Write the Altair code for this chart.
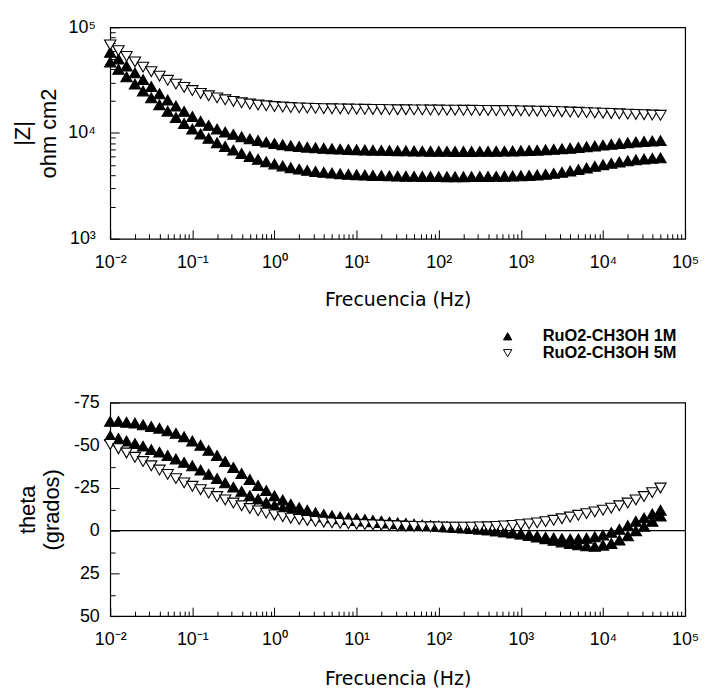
import altair as alt
import pandas as pd

# ---------------- data ----------------
freq = [0.01, 0.0126, 0.0158, 0.02, 0.0251, 0.0316, 0.0398, 0.0501, 0.0631, 0.0794,
        0.1, 0.126, 0.158, 0.2, 0.251, 0.316, 0.398, 0.501, 0.631, 0.794,
        1, 1.26, 1.58, 2, 2.51, 3.16, 3.98, 5.01, 6.31, 7.94,
        10, 12.6, 15.8, 20, 25.1, 31.6, 39.8, 50.1, 63.1, 79.4,
        100, 126, 158, 200, 251, 316, 398, 501, 631, 794,
        1000, 1260, 1580, 2000, 2510, 3160, 3980, 5010, 6310, 7940,
        10000, 12600, 15800, 20000, 25100, 31600, 39800, 50100]

series_names = ["RuO2-CH3OH (rótulo cortado)", "RuO2-CH3OH 1M", "RuO2-CH3OH 5M"]

# |Z| (ohm cm2)
z_a = [47000, 40000, 34000, 29000, 25000, 21500, 18500, 16000, 14000, 12300,
       10900, 9800, 8900, 8100, 7450, 6900, 6400, 6000, 5650, 5350,
       5100, 4880, 4700, 4550, 4430, 4330, 4250, 4180, 4120, 4070,
       4030, 4000, 3970, 3950, 3930, 3910, 3900, 3890, 3880, 3870,
       3865, 3860, 3860, 3860, 3865, 3870, 3880, 3890, 3900, 3920,
       3940, 3970, 4010, 4070, 4150, 4250, 4370, 4510, 4670, 4840,
       5010, 5170, 5320, 5460, 5580, 5680, 5760, 5820]
z_b = [58000, 50000, 43000, 37000, 32000, 27500, 23500, 20500, 18000, 16000,
       14300, 12900, 11800, 10900, 10200, 9700, 9200, 8800, 8500, 8200,
       7950, 7750, 7580, 7450, 7340, 7250, 7170, 7100, 7040, 6990,
       6950, 6910, 6880, 6850, 6820, 6800, 6780, 6760, 6740, 6720,
       6710, 6700, 6690, 6690, 6690, 6700, 6710, 6720, 6740, 6760,
       6790, 6830, 6880, 6940, 7010, 7090, 7180, 7290, 7410, 7540,
       7680, 7820, 7960, 8090, 8210, 8310, 8400, 8470]
z_c = [68000, 60000, 53000, 47000, 42000, 38000, 34500, 31500, 29000, 27000,
       25200, 23700, 22500, 21500, 20600, 19900, 19300, 18800, 18400, 18100,
       17800, 17600, 17400, 17300, 17200, 17100, 17000, 16950, 16900, 16850,
       16800, 16750, 16700, 16700, 16650, 16600, 16600, 16550, 16550, 16500,
       16500, 16450, 16450, 16400, 16400, 16350, 16350, 16300, 16300, 16250,
       16200, 16150, 16100, 16050, 16000, 15900, 15800, 15700, 15600, 15500,
       15400, 15300, 15200, 15100, 15000, 14900, 14800, 14700]

# theta (grados)
t_a = [-55.5, -54, -52.5, -51, -49.5, -47.5, -46, -44, -42, -40,
       -38, -35.5, -33, -30.5, -28, -25.5, -23, -20.5, -18.5, -16.5,
       -14.8, -13.3, -12, -10.8, -9.8, -9, -8.2, -7.6, -7, -6.5,
       -6, -5.6, -5.2, -4.8, -4.4, -4, -3.7, -3.4, -3.1, -2.8,
       -2.5, -2.2, -1.9, -1.6, -1.3, -0.9, -0.5, 0, 0.6, 1.2,
       1.8, 2.5, 3.2, 3.8, 4.3, 4.7, 4.9, 4.8, 4.4, 3.6,
       2.5, 1, -0.8, -3, -5.5, -7.5, -9.8, -12]
t_b = [-64, -64, -63.5, -63, -62, -61, -60, -58.5, -57, -55,
       -52.5, -50, -47, -44, -40.5, -37, -33.5, -30, -26.5, -23.5,
       -20.5, -18, -15.5, -13.5, -12, -10.5, -9.5, -8.7, -8, -7.5,
       -7, -6.5, -6, -5.5, -5, -4.6, -4.2, -3.8, -3.4, -3,
       -2.7, -2.4, -2.1, -1.8, -1.4, -1, -0.5, 0, 0.6, 1.3,
       2, 2.8, 3.7, 4.7, 5.7, 6.6, 7.5, 8.3, 8.9, 9.2,
       8.5, 7.5, 5.5, 3, 0, -2.5, -5.5, -8.5]
t_c = [-50.5, -48, -45.5, -43, -40.5, -38, -35.5, -33, -30.5, -28,
       -26, -24, -22, -20, -18, -16.2, -14.6, -13, -11.6, -10.3,
       -9.2, -8.2, -7.3, -6.6, -6, -5.5, -5, -4.6, -4.3, -4,
       -3.8, -3.6, -3.4, -3.2, -3, -2.8, -2.6, -2.5, -2.4, -2.3,
       -2.2, -2.1, -2.1, -2.1, -2.1, -2.2, -2.3, -2.5, -2.8, -3.1,
       -3.5, -4, -4.6, -5.3, -6.1, -7, -8, -9, -10, -11,
       -12, -13.2, -14.6, -16.2, -18, -20, -22.3, -25]

x_major_vals = [0.01, 0.1, 1, 10, 100, 1000, 10000, 100000]
x_major_labels = ["10⁻²", "10⁻¹", "10⁰", "10¹", "10²", "10³", "10⁴", "10⁵"]
x_minor_vals = [m * d for d in [0.01, 0.1, 1, 10, 100, 1000, 10000] for m in range(2, 10)]
z_major_vals = [1000, 10000, 100000]
z_major_labels = ["10³", "10⁴", "10⁵"]
z_minor_vals = [m * d for d in [1000, 10000] for m in range(2, 10)]
t_major_vals = [-75, -50, -25, 0, 25, 50]
t_major_labels = ["-75", "-50", "-25", "0", "25", "50"]
t_minor_vals = [-62.5, -37.5, -12.5, 12.5, 37.5]
zero_line = [0]

rows = []
for name, zs, ts in zip(series_names, [z_a, z_b, z_c], [t_a, t_b, t_c]):
    for f, z, t in zip(freq, zs, ts):
        rows.append({"serie": name, "freq": f, "z": z, "theta": t})
df = pd.DataFrame(rows)


def label_expr(vals, labels):
    expr = "''"
    for v, lab in reversed(list(zip(vals, labels))):
        tol = max(abs(v) * 0.001, 0.001)
        expr = f"abs(datum.value - ({v})) < {tol} ? '{lab}' : ({expr})"
    return expr


TICK_FONT = "Liberation Sans"
TITLE_FONT = "DejaVu Sans"
MAJ = 9
MIN = 5
MSIZE = 130

shape_scale = alt.Scale(domain=series_names, range=["triangle-up", "triangle-up", "triangle-down"])
fill_scale = alt.Scale(domain=series_names, range=["black", "black", "white"])
stroke_scale = alt.Scale(domain=series_names, range=["black", "black", "black"])

legend_def = alt.Legend(
    title=None, values=series_names[1:], orient="none", legendX=392, legendY=303,
    labelFont="Liberation Sans", labelFontWeight="bold", labelFontSize=16.5, labelColor="black",
    symbolSize=70, symbolStrokeWidth=1, labelOffset=27,
    rowPadding=0, padding=0,
)

x_scale = alt.Scale(type="log", domain=[0.01, 100000])


def x_major(title_pad):
    return alt.X("freq:Q", scale=x_scale, axis=alt.Axis(
        values=x_major_vals, labelExpr=label_expr(x_major_vals, x_major_labels),
        tickSize=MAJ, offset=-MAJ, domain=False, grid=False, tickColor="black",
        labelFont=TICK_FONT, labelFontSize=18, labelColor="black", labelPadding=15,
        labelFlush=False, labelOverlap=False,
        title="Frecuencia (Hz)", titleFont=TITLE_FONT, titleFontSize=19,
        titleFontWeight="normal", titleColor="black", titlePadding=title_pad, orient="bottom"))


def x_minor():
    return alt.X("freq:Q", scale=x_scale, axis=alt.Axis(
        values=x_minor_vals, tickSize=MIN, offset=-MIN, domain=False, grid=False,
        labels=False, tickColor="black", title=None, orient="bottom"))


# ---------------- top panel: |Z| ----------------
z_scale = alt.Scale(type="log", domain=[1000, 100000])

top_pts = alt.Chart(df).mark_point(filled=True, strokeWidth=1.1, size=MSIZE, opacity=1).encode(
    x=x_major(19),
    y=alt.Y("z:Q", scale=z_scale, axis=alt.Axis(
        values=z_major_vals, labelExpr=label_expr(z_major_vals, z_major_labels),
        tickSize=MAJ, offset=-MAJ, domain=False, grid=False, tickColor="black",
        labelFont=TICK_FONT, labelFontSize=18, labelColor="black", labelPadding=15,
        labelFlush=False, labelOverlap=False,
        title=["|Z|", "ohm cm2"], titleFont="Liberation Sans", titleFontSize=22,
        titleFontWeight="normal", titleColor="black", titleLineHeight=27, titlePadding=7,
        orient="left")),
    shape=alt.Shape("serie:N", scale=shape_scale, legend=legend_def),
    fill=alt.Fill("serie:N", scale=fill_scale, legend=legend_def),
    stroke=alt.Stroke("serie:N", scale=stroke_scale, legend=legend_def),
)
top_minor = alt.Chart(df).mark_point(opacity=0).encode(
    x=x_minor(),
    y=alt.Y("z:Q", scale=z_scale, axis=alt.Axis(
        values=z_minor_vals, tickSize=MIN, offset=-MIN, domain=False, grid=False,
        labels=False, tickColor="black", title=None, orient="left")),
)
top = alt.layer(top_minor, top_pts).resolve_axis(x="independent", y="independent").properties(
    width=579, height=213)

# ---------------- bottom panel: theta ----------------
t_scale = alt.Scale(domain=[-75, 50], reverse=True, nice=False, zero=False)

bot_pts = alt.Chart(df).mark_point(filled=True, strokeWidth=1.1, size=MSIZE, opacity=1).encode(
    x=x_major(21),
    y=alt.Y("theta:Q", scale=t_scale, axis=alt.Axis(
        values=t_major_vals, labelExpr=label_expr(t_major_vals, t_major_labels),
        tickSize=MAJ, offset=-MAJ, domain=False, grid=False,
        tickColor="black", labelFont=TICK_FONT, labelFontSize=18, labelColor="black",
        labelPadding=11, labelFlush=False, labelOverlap=False,
        title=["theta", "(grados)"], titleFont="Liberation Sans", titleFontSize=22,
        titleFontWeight="normal", titleColor="black", titleLineHeight=24, titlePadding=10,
        orient="left")),
    shape=alt.Shape("serie:N", scale=shape_scale, legend=None),
    fill=alt.Fill("serie:N", scale=fill_scale, legend=None),
    stroke=alt.Stroke("serie:N", scale=stroke_scale, legend=None),
)
bot_minor = alt.Chart(pd.DataFrame({"theta": zero_line})).mark_rule(color="black", strokeWidth=1.2).encode(
    y=alt.Y("theta:Q", scale=t_scale, axis=alt.Axis(
        values=t_minor_vals, tickSize=MIN, offset=-MIN, domain=False, grid=False,
        labels=False, tickColor="black", title=None, orient="left")),
)
bot_xminor = alt.Chart(df).mark_point(opacity=0).encode(
    x=x_minor(),
    y=alt.Y("theta:Q", scale=t_scale, axis=None),
)
bottom = alt.layer(bot_minor, bot_xminor, bot_pts).resolve_axis(x="independent", y="independent").properties(
    width=579, height=215)

chart = alt.vconcat(top, bottom, spacing=30).resolve_scale(
    shape="independent", fill="independent", stroke="independent"
).resolve_legend(shape="independent", fill="independent", stroke="independent").properties(
    padding={"left": 10, "top": 15, "right": 5, "bottom": 0}, background="white"
).configure_view(stroke="black", strokeWidth=1.2)

chart.save("out.html", embed_options={"renderer": "svg", "actions": False})
